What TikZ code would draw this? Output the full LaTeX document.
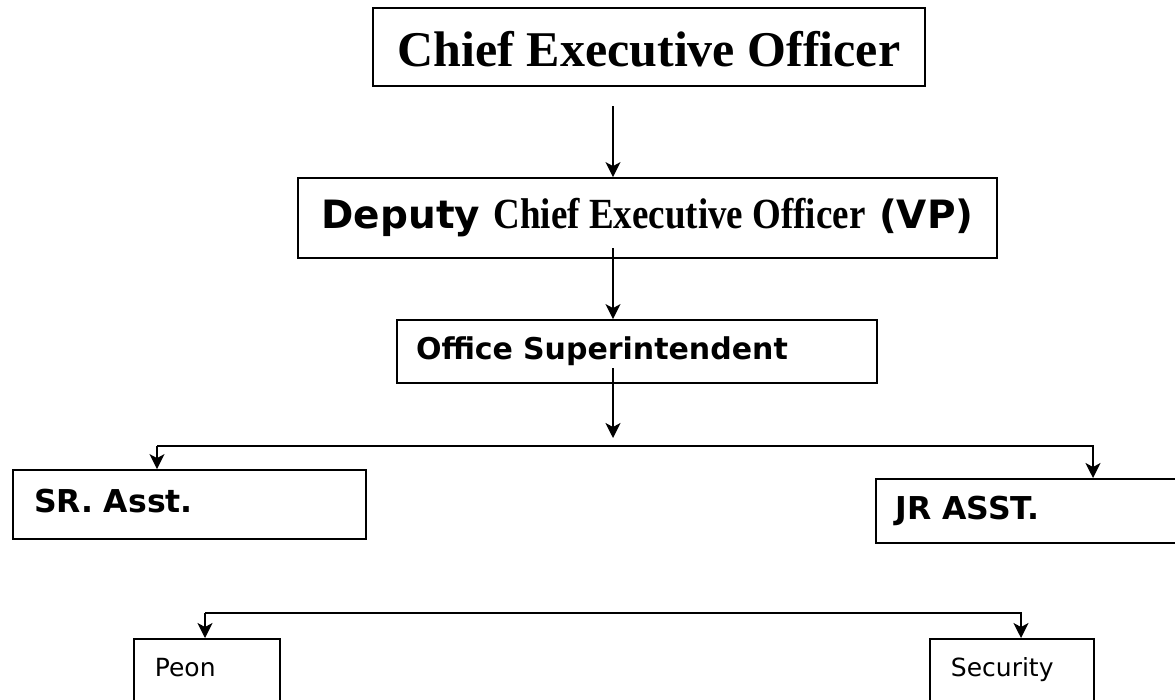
\documentclass[tikz,border=0pt]{standalone}
\usepackage{graphicx}
\usepackage{fontspec}
\setmainfont{Liberation Serif}
\newfontfamily\verdanafont{DejaVu Sans}
\newfontfamily\timesfont{Liberation Serif}
\usetikzlibrary{arrows.meta}

\tikzset{
  post/.style={draw, line width=1.8pt, inner sep=0pt},
  lpost/.style={post, align=left},
  link/.style={line width=1.7pt, -{Stealth[length=15pt,width=15pt,inset=4pt]}},
}

\begin{document}
\begin{tikzpicture}[x=1pt, y=-1pt]
        % Page
        \useasboundingbox (0,0) rectangle (1175,699);
        \fill[white] (0,0) rectangle (1175,699);
        \clip (0,0) rectangle (1175,699);

        % Top of the chart
        \node[post, minimum width=552pt, minimum height=78pt, text height=38pt, text depth=0pt,
              font=\timesfont\bfseries\fontsize{50}{60}\selectfont] (ceo) at (649,47)
            {Chief Executive Officer};
        \node[post, minimum width=699pt, minimum height=80pt,
              font=\verdanafont\bfseries\fontsize{39}{46}\selectfont] (dceo) at (647.5,218)
            {Deputy \scalebox{0.86}[1]{\timesfont\fontsize{43}{50}\selectfont Chief Executive Officer} (VP)};
        \node[lpost, minimum height=63pt, inner xsep=19pt, text width=442pt,
              font=\verdanafont\bfseries\fontsize{30}{36}\selectfont] (os) at (637,351.5)
            {Office Superintendent};

        % Assistants
        \node[lpost, minimum height=69pt, inner xsep=21pt, text width=311pt, text depth=8pt,
              font=\verdanafont\bfseries\fontsize{31.5}{38}\selectfont] (sr) at (189.5,504.5)
            {SR. Asst.};
        \node[lpost, anchor=north west, minimum height=64pt, inner xsep=20pt, text width=280pt,
              font=\verdanafont\bfseries\fontsize{31.5}{38}\selectfont] (jr) at (875,478)
            {JR ASST.};

        % Staff (boxes run past the bottom edge)
        \node[lpost, anchor=north west, inner xsep=21pt, inner ysep=19pt, text width=104pt, text depth=60pt,
              font=\verdanafont\fontsize{25}{30}\selectfont] (peon) at (133,638)
            {Peon};
        \node[lpost, anchor=north west, inner xsep=21pt, inner ysep=19pt, text width=122pt, text depth=60pt,
              font=\verdanafont\fontsize{25}{30}\selectfont] (security) at (929,638)
            {Security};

        % Connectors
        \coordinate (ceo-out) at (613,106);
        \coordinate (dceo-out) at (613,248);
        \coordinate (os-out) at (613,368);
        \coordinate (os-in) at (613,438);
        \coordinate (branch-l) at (157,446);
        \coordinate (branch-r) at (1093,446);
        \coordinate (staff-l) at (205,613);
        \coordinate (staff-r) at (1021,613);

        \draw[link] (ceo-out) -- (dceo.north -| ceo-out);
        \draw[link] (dceo-out) -- (os.north -| dceo-out);
        \draw[link] (os-out) -- (os-in);
        \draw[link] (branch-l) -- (branch-r) -- (jr.north -| branch-r);
        \draw[link] (branch-l) -- (sr.north -| branch-l);
        \draw[link] (staff-l) -- (staff-r) -- (security.north -| staff-r);
        \draw[link] (staff-l) -- (peon.north -| staff-l);

\end{tikzpicture}
\end{document}
